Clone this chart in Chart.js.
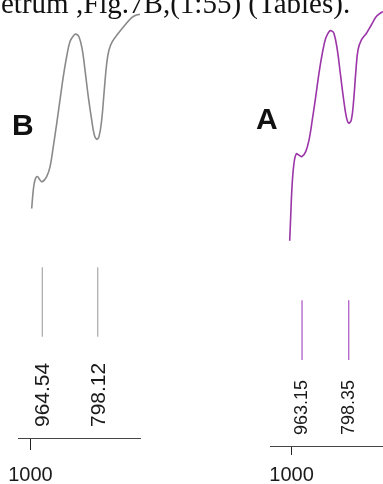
<!DOCTYPE html>
<html>
<head>
<meta charset="utf-8">
<script src="https://cdn.jsdelivr.net/npm/chart.js@4"></script>
<style>
  html, body { margin: 0; padding: 0; background: #fff; }
  #page { position: relative; width: 383px; height: 484px; overflow: hidden; background: #fff; }
  #caption { position: absolute; left: 1px; top: -11px; font: 29px "Liberation Serif", "Times New Roman", serif; line-height: 29px; color: #111; white-space: nowrap; }
  .panel-tag { position: absolute; font: bold 30px "Liberation Sans", Arial, sans-serif; line-height: 30px; color: #111; }
  #tagB { left: 12px; top: 110px; }
  #tagA { left: 256px; top: 104px; }
  #cB { position: absolute; left: 0; top: 0; }
  #cA { position: absolute; left: 190px; top: 0; }
</style>
</head>
<body>
<div id="page">
  <canvas id="cB" width="190" height="484"></canvas>
  <canvas id="cA" width="193" height="484"></canvas>
  <div id="caption">etrum ,Fig.7B,(1:55) (Tables).</div>
  <div class="panel-tag" id="tagB">B</div>
  <div class="panel-tag" id="tagA">A</div>
</div>
<script>
// Spectrum B: wavenumber (cm-1) and transmittance (%)
const wavenumB = [996.4, 991.6, 986.5, 979.6, 971.5, 964.6, 951.4, 941.4, 931.5, 921.3,
                  911.4, 901.5, 891.3, 881.4, 871.5, 863.4, 854.4, 844.4, 836.3, 826.4,
                  816.2, 808.4, 801.2, 794.3, 786.2, 778.4, 771.2, 764.3, 754.4, 736.3,
                  716.2, 696.1, 681.1, 671.2];
const transB = [52.4, 56.6, 58.9, 59.7, 58.9, 58.5, 59.7, 61.9, 66.5, 71.8,
                77.2, 82.5, 87.1, 90.5, 91.8, 92.2, 91.6, 88.6, 84.0, 77.9,
                72.6, 69.2, 68.2, 68.8, 72.6, 79.5, 85.5, 88.6, 90.5, 92.4,
                94.3, 96.0, 96.6, 96.7];

// Spectrum A: wavenumber (cm-1) and transmittance (%)
const wavenumA = [1006.7, 1003.2, 998.6, 991.5, 983.4, 973.9, 963.3, 950.2, 938.6, 927.0,
                  915.0, 903.3, 891.7, 879.7, 868.0, 859.9, 850.4, 838.7, 828.2, 816.2,
                  806.9, 798.5, 789.3, 780.9, 773.8, 765.7, 754.1, 736.4, 718.8, 701.1,
                  683.5, 677.5];
const transA = [46.0, 51.4, 58.1, 63.4, 65.5, 65.2, 64.9, 66.0, 68.6, 73.1,
                78.3, 83.6, 88.0, 91.4, 92.9, 93.1, 92.5, 88.8, 83.6, 77.6,
                73.8, 72.4, 73.1, 77.6, 83.6, 88.8, 91.0, 92.5, 94.4, 96.3,
                97.2, 97.4];

// Picked absorption bands (cm-1)
const peaksB = [964.54, 798.12];
const peaksA = [963.15, 798.35];

// Wavenumber tick labels
const tickValues = [1000];

function makePanel(canvasId, cfg) {
  const curve = {
    data: cfg.wavenum.map((x, i) => ({ x: x, y: cfg.trans[i] })),
    borderColor: cfg.curveColor,
    borderWidth: 1.6,
    pointRadius: 0,
    tension: 0.4,
    fill: false
  };
  // one short vertical marker per picked band
  const markers = cfg.peaks.map(p => ({
    data: [{ x: p, y: cfg.markerSpan[0] }, { x: p, y: cfg.markerSpan[1] }],
    borderColor: cfg.markerColor,
    borderWidth: 1.2,
    pointRadius: 0,
    tension: 0,
    fill: false
  }));

  const bandLabels = {
    id: 'bandLabels',
    afterDatasetsDraw(chart) {
      const ctx = chart.ctx;
      const xs = chart.scales.x;
      const base = chart.chartArea.bottom - cfg.labelGap;
      ctx.save();
      ctx.fillStyle = '#1a1a1a';
      ctx.font = cfg.labelFont;
      ctx.textAlign = 'left';
      ctx.textBaseline = 'middle';
      cfg.peaks.forEach(p => {
        const px = xs.getPixelForValue(p);
        ctx.save();
        ctx.translate(px + cfg.labelShift, base);
        ctx.rotate(-Math.PI / 2);
        ctx.fillText(p.toFixed(2), 0, 0);
        ctx.restore();
      });
      ctx.restore();
    }
  };

  return new Chart(document.getElementById(canvasId), {
    type: 'line',
    data: { datasets: [curve].concat(markers) },
    options: {
      responsive: false,
      animation: false,
      devicePixelRatio: 1,
      layout: { padding: { left: cfg.padLeft, right: cfg.padRight, top: 0, bottom: 0 } },
      plugins: { legend: { display: false }, tooltip: { enabled: false } },
      scales: {
        x: {
          type: 'linear',
          reverse: true,
          min: cfg.xMin,
          max: cfg.xMax,
          afterBuildTicks(scale) { scale.ticks = tickValues.map(v => ({ value: v })); },
          afterFit(scale) {
            scale.height = cfg.axisHeight;
            scale.paddingLeft = 0;
            scale.paddingRight = 0;
          },
          border: { display: true, color: '#444', width: 1 },
          grid: { display: true, drawOnChartArea: false, drawTicks: true, tickLength: cfg.tickLength, tickColor: '#222', tickWidth: 1 },
          ticks: {
            callback: v => String(v),
            maxRotation: 0,
            autoSkip: false,
            padding: cfg.tickPadding,
            color: '#1a1a1a',
            font: { family: '"Liberation Sans", Arial, sans-serif', size: 20 }
          }
        },
        y: { type: 'linear', display: false, min: 0, max: 100 }
      }
    },
    plugins: [bandLabels]
  });
}

makePanel('cB', {
  wavenum: wavenumB, trans: transB, peaks: peaksB,
  curveColor: '#8a8a8a', markerColor: '#a8a8a8',
  markerSpan: [23.1, 39.0],
  xMin: 671.2, xMax: 1037.5,
  padLeft: 18, padRight: 50,
  axisHeight: 46, tickLength: 12, tickPadding: 13,
  labelGap: 11, labelShift: 1, labelFont: '21px "Liberation Sans", Arial, sans-serif'
});

makePanel('cA', {
  wavenum: wavenumA, trans: transA, peaks: peaksA,
  curveColor: '#9b35a8', markerColor: '#a850c0',
  markerSpan: [19.3, 32.7],
  xMin: 677.5, xMax: 1076.2,
  padLeft: 80, padRight: 0,
  axisHeight: 38, tickLength: 9, tickPadding: 8,
  labelGap: 11, labelShift: 0, labelFont: '18px "Liberation Sans", Arial, sans-serif'
});
</script>
</body>
</html>
